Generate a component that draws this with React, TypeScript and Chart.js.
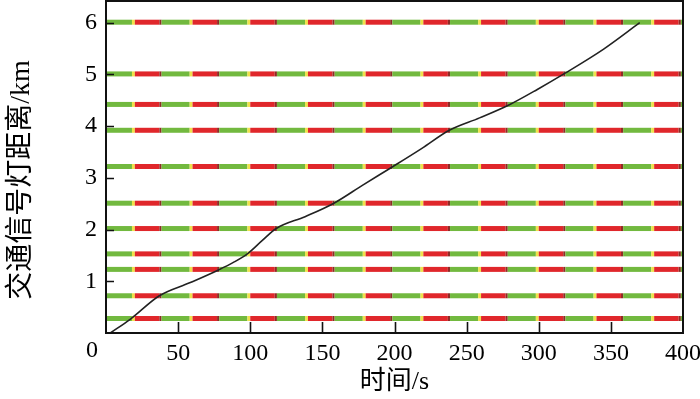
import React, { useEffect, useRef } from "react";
import { Chart, registerables } from "chart.js";

Chart.register(...registerables);

// ---- data ----
const timeTicks = [0, 50, 100, 150, 200, 250, 300, 350, 400];
const distanceTicks = [1, 2, 3, 4, 5, 6];

// positions of the traffic signals (km)
const signalPositions = [0.28, 0.72, 1.23, 1.53, 2.02, 2.51, 3.22, 3.92, 4.42, 5.01, 6.01];

// signal timing within one 40 s cycle (s)
const signalCycle = 40;
const greenEnd = 18;
const yellowEnd = 20;
const redEnd = 37;
const redTailEnd = 38.5;

// vehicle trajectory
const trajTime = [3, 17, 37, 58, 78, 88, 98, 108, 118, 138, 158, 178, 199, 219, 238, 259, 280, 299, 318, 345, 370];
const trajDist = [0, 0.27, 0.72, 0.97, 1.22, 1.36, 1.53, 1.78, 2.02, 2.25, 2.51, 2.86, 3.22, 3.57, 3.92, 4.16, 4.42, 4.71, 5.02, 5.49, 6.0];

const xTitle = "时间/s";
const yTitle = "交通信号灯距离/km";

const X_MIN = 0;
const X_MAX = 400;
const Y_MIN = 0;
const Y_MAX = 6.42;

const GREEN = "#72b93f";
const YELLOW = "#f0e24a";
const RED = "#e0272b";
const RED_TAIL = "#8e2b25";

function phaseColor(t: number) {
  const p = ((t % signalCycle) + signalCycle) % signalCycle;
  if (p < greenEnd - 1e-6 || p >= redTailEnd - 1e-6) return GREEN;
  if (p < yellowEnd - 1e-6) return YELLOW;
  if (p < redEnd - 1e-6) return RED;
  return RED_TAIL;
}

function switchTimes(): number[] {
  const out: number[] = [X_MIN];
  for (let c = 0; c < X_MAX; c += signalCycle) {
    [greenEnd, yellowEnd, redEnd, redTailEnd].forEach((o) => {
      const t = c + o;
      if (t > X_MIN && t < X_MAX) out.push(t);
    });
  }
  out.push(X_MAX);
  return out;
}

const SERIF = "'Liberation Serif', 'Times New Roman', serif";
const TITLE_FONT = "'Liberation Serif', 'Noto Sans CJK SC', serif";

const framePlugin = {
  id: "frameTicks",
  afterDraw(chart: any) {
    const { ctx, chartArea, scales } = chart;
    const { left, right, top, bottom } = chartArea;
    const x = scales.x;
    const y = scales.y;
    ctx.save();
    ctx.strokeStyle = "#111";
    ctx.lineWidth = 2;
    ctx.strokeRect(left, top, right - left, bottom - top);
    ctx.beginPath();
    x.ticks.forEach((t: any) => {
      if (t.value <= X_MIN || t.value >= X_MAX) return;
      const px = Math.round(x.getPixelForValue(t.value)) + 0.5;
      ctx.moveTo(px, bottom);
      ctx.lineTo(px, bottom - 11);
    });
    y.ticks.forEach((t: any) => {
      const py = Math.round(y.getPixelForValue(t.value)) + 0.5;
      ctx.moveTo(left, py);
      ctx.lineTo(left + 8, py);
    });
    ctx.lineWidth = 1.6;
    ctx.stroke();
    // origin label
    ctx.fillStyle = "#000";
    ctx.font = `24px ${SERIF}`;
    ctx.textAlign = "right";
    ctx.textBaseline = "top";
    ctx.fillText(String(timeTicks[0]), left - 8, bottom + 6);
    // y axis title
    ctx.save();
    ctx.translate(22, 180);
    ctx.rotate(-Math.PI / 2);
    ctx.font = `28px ${TITLE_FONT}`;
    ctx.textAlign = "center";
    ctx.textBaseline = "middle";
    ctx.fillText(yTitle, 0, 0);
    ctx.restore();
    ctx.restore();
  },
};

export default function App() {
  const canvasRef = useRef<HTMLCanvasElement | null>(null);

  useEffect(() => {
    document.body.style.margin = "0";
    const canvas = canvasRef.current;
    if (!canvas) return;
    const times = switchTimes();

    const bandDatasets = signalPositions.map((pos) => ({
      label: `signal ${pos}`,
      data: times.map((t) => ({ x: t, y: pos })),
      borderWidth: 5,
      borderCapStyle: "butt" as const,
      pointRadius: 0,
      tension: 0,
      order: 1,
      segment: {
        borderColor: (c: any) => phaseColor(c.p0.parsed.x),
      },
      borderColor: GREEN,
    }));

    const trajDataset = {
      label: "trajectory",
      data: trajTime.map((t, i) => ({ x: t, y: trajDist[i] })),
      borderColor: "#222",
      borderWidth: 1.6,
      pointRadius: 0,
      cubicInterpolationMode: "monotone" as const,
      order: 0,
    };

    const chart = new Chart(canvas, {
      type: "line",
      data: { datasets: [...bandDatasets, trajDataset] as any },
      plugins: [framePlugin],
      options: {
        animation: false,
        responsive: false,
        events: [],
        layout: { padding: { top: 1, right: 17, left: 0, bottom: 0 } },
        plugins: {
          legend: { display: false },
          tooltip: { enabled: false },
        },
        scales: {
          x: {
            type: "linear",
            min: X_MIN,
            max: X_MAX,
            grid: { display: false, drawTicks: false },
            border: { display: false },
            afterBuildTicks: (s: any) => {
              s.ticks = timeTicks.map((v) => ({ value: v }));
            },
            afterFit: (s: any) => {
              s.height = 66;
              s.paddingLeft = 0;
              s.paddingRight = 0;
            },
            ticks: {
              autoSkip: false,
              maxRotation: 0,
              padding: 6,
              color: "#000",
              font: { family: SERIF, size: 24 },
              callback: (v: any) => (v === timeTicks[0] ? "" : String(v)),
            },
            title: {
              display: true,
              text: xTitle,
              color: "#000",
              font: { family: TITLE_FONT, size: 26 },
              padding: { top: 0, bottom: 1 },
            },
          },
          y: {
            type: "linear",
            min: Y_MIN,
            max: Y_MAX,
            grid: { display: false, drawTicks: false },
            border: { display: false },
            afterBuildTicks: (s: any) => {
              s.ticks = distanceTicks.map((v) => ({ value: v }));
            },
            afterFit: (s: any) => {
              s.width = 106;
              s.paddingTop = 0;
              s.paddingBottom = 0;
            },
            ticks: {
              padding: 9,
              color: "#000",
              font: { family: SERIF, size: 24 },
              callback: (v: any) => String(v),
            },
            title: { display: false },
          },
        },
      },
    });
    return () => chart.destroy();
  }, []);

  return (
    <div style={{ position: "absolute", left: 0, top: 0, width: 700, height: 399, background: "#fff" }}>
      <canvas ref={canvasRef} width={700} height={399} style={{ display: "block", width: 700, height: 399 }} />
    </div>
  );
}
